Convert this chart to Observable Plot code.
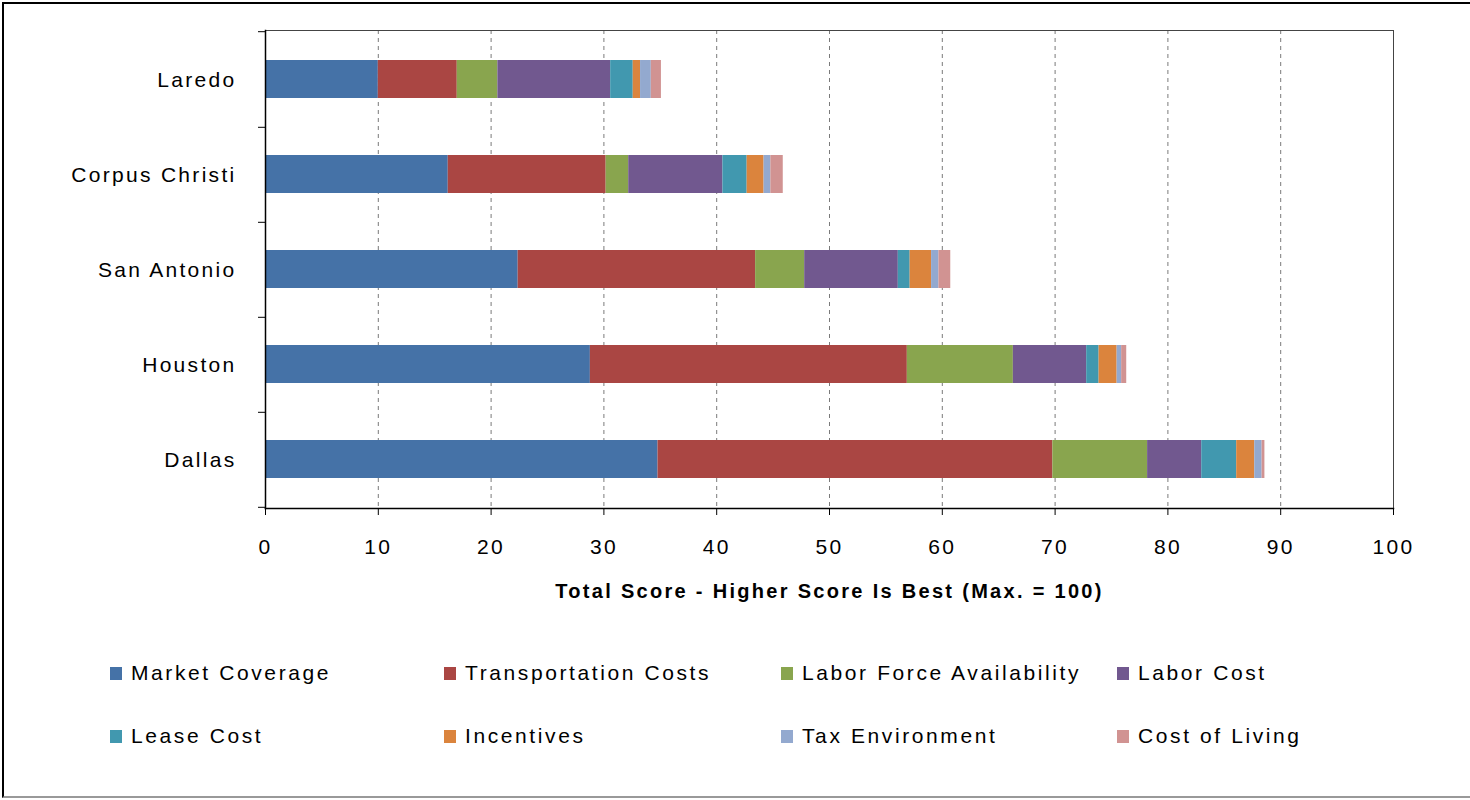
<!DOCTYPE html>
<html><head><meta charset="utf-8">
<script src="https://cdn.jsdelivr.net/npm/d3@7"></script>
<script src="https://cdn.jsdelivr.net/npm/@observablehq/plot@0.6"></script>
<style>
body{margin:0;background:#fff;}
#wrap{position:relative;width:1470px;height:800px;overflow:hidden;font-family:"Liberation Sans",Arial,sans-serif;background:#fff;}
#border{position:absolute;left:2px;top:2px;right:-10px;bottom:2px;border-top:2px solid #000;border-left:2px solid #000;border-bottom:2px solid #999;pointer-events:none;}
#chart{position:absolute;left:0;top:0;}
.item{position:absolute;display:flex;align-items:center;font-size:21px;letter-spacing:2.6px;color:#000;white-space:nowrap;height:26px;}
.sw{width:12px;height:13px;margin-right:9px;flex:none;}
</style>
</head><body>
<div id="wrap"><div id="chart"></div><div id="legend"></div><div id="border"></div></div>
<script>
const cities = ["Laredo", "Corpus Christi", "San Antonio", "Houston", "Dallas"];
const categories = ["Market Coverage", "Transportation Costs", "Labor Force Availability", "Labor Cost",
  "Lease Cost", "Incentives", "Tax Environment", "Cost of Living"];
const colors = ["#4572A7", "#AA4643", "#89A54E", "#71588F", "#4198AF", "#DB843D", "#93A9CF", "#D19392"];
const marketCoverage         = [10.0, 16.2, 22.4, 28.8, 34.8];
const transportationCosts    = [7.0, 14.0, 21.05, 28.1, 35.0];
const laborForceAvailability = [3.6, 2.0, 4.35, 9.4, 8.4];
const laborCost              = [10.0, 8.35, 8.3, 6.5, 4.8];
const leaseCost              = [2.0, 2.15, 1.05, 1.1, 3.1];
const incentives             = [0.65, 1.5, 1.9, 1.6, 1.6];
const taxEnvironment         = [0.95, 0.6, 0.65, 0.4, 0.65];
const costOfLiving           = [0.9, 1.1, 1.05, 0.45, 0.25];
const xTicks = [0, 10, 20, 30, 40, 50, 60, 70, 80, 90, 100];
const xTitle = "Total Score - Higher Score Is Best (Max. = 100)";

const series = [marketCoverage, transportationCosts, laborForceAvailability, laborCost,
  leaseCost, incentives, taxEnvironment, costOfLiving];
const data = cities.flatMap((c, i) => categories.map((k, j) => ({city: c, category: k, value: series[j][i]})));

const W = 1470, H = 620, mT = 30, mB = 112, mL = 265, mR = 77;
const half = (H - mT - mB) / cities.length / 2;

const chart = Plot.plot({
  width: W, height: H, marginLeft: mL, marginRight: mR, marginTop: mT, marginBottom: mB,
  style: {fontFamily: "'Liberation Sans', Arial, sans-serif", fontSize: "21px", color: "#000", background: "transparent", letterSpacing: "2.3px"},
  x: {domain: [0, 100], ticks: xTicks, label: null},
  y: {domain: cities, paddingInner: 0.6, paddingOuter: 0.3, label: null},
  color: {domain: categories, range: colors},
  marks: [
    Plot.gridX(xTicks.filter(d => d > 0 && d < 100), {stroke: "#7a7a7a", strokeOpacity: 1, strokeDasharray: "4,4"}),
    Plot.frame({stroke: "#444", strokeWidth: 1}),
    Plot.barX(data, {x: "value", y: "city", fill: "category"}),
    Plot.frame({anchor: "left", stroke: "#000", strokeWidth: 1.5}),
    Plot.frame({anchor: "bottom", stroke: "#000", strokeWidth: 1.5}),
    Plot.axisX({ticks: xTicks, tickSize: 7, tickPadding: 24, label: null, fill: "#000"}),
    Plot.axisY({tickSize: 0, tickPadding: 29, label: null, fill: "#000", dy: 1}),
    Plot.axisY({tickSize: 7, dy: half, text: null, label: null}),
    Plot.axisY([cities[0]], {tickSize: 7, dy: -half, text: null, label: null}),
    Plot.text([xTitle], {frameAnchor: "bottom", dy: 89, fontWeight: "bold", fontSize: 20, fill: "#000", letterSpacing: "1.3px"})
  ]
});
document.getElementById("chart").appendChild(chart);

const legendCols = [110, 444, 781, 1117];
const legendRows = [673, 736];
const legend = document.getElementById("legend");
categories.forEach((k, j) => {
  const d = document.createElement("div");
  d.className = "item";
  d.style.left = legendCols[j % 4] + "px";
  d.style.top = (legendRows[Math.floor(j / 4)] - 13) + "px";
  d.innerHTML = `<span class="sw" style="background:${colors[j]}"></span><span>${k}</span>`;
  legend.appendChild(d);
});
</script>
</body></html>
